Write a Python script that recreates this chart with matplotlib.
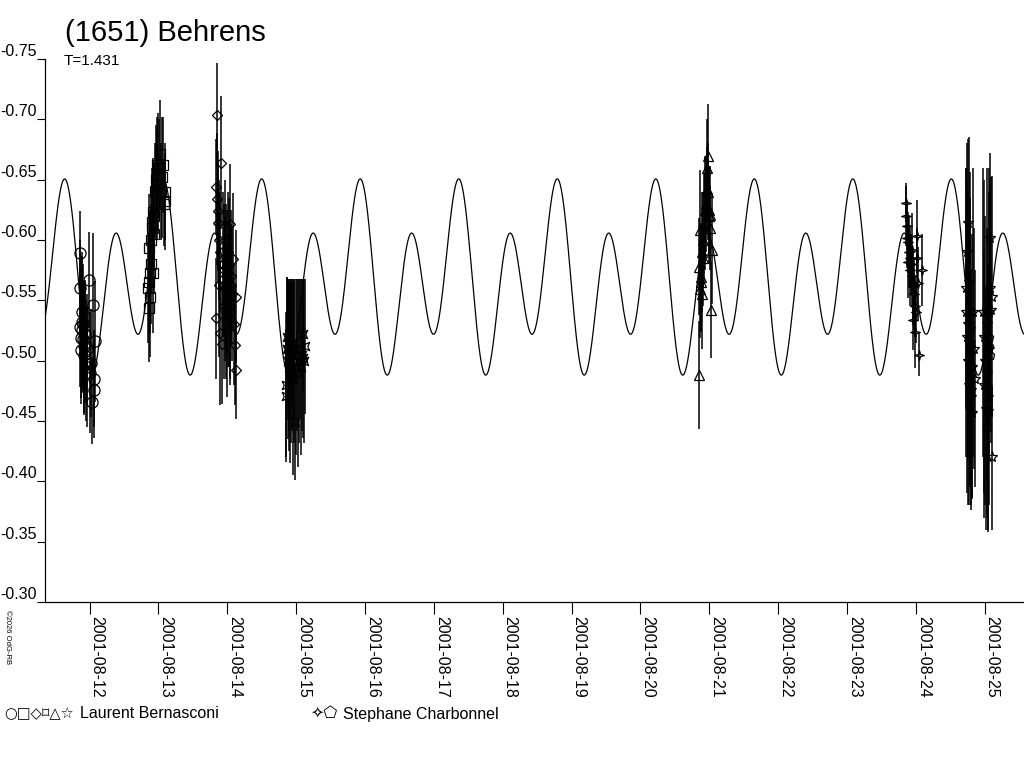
import matplotlib
matplotlib.use("Agg")
import numpy as np
import matplotlib.pyplot as plt
from matplotlib.path import Path

plt.rcParams['font.family'] = ['Liberation Sans', 'DejaVu Sans']

# ---------------- data ----------------
title = "(1651) Behrens"
period_label = "T=1.431"

# Fourier model of the light curve (days of August 2001, magnitude)
PERIOD = 1.431
EPOCH = 11.652
MODEL_MEAN = -0.5668
MODEL_COS1 = -0.0225
MODEL_SIN1 = 0.017
MODEL_COS2 = -0.0608

day_ticks = [12, 13, 14, 15, 16, 17, 18, 19, 20, 21, 22, 23, 24, 25]
day_labels = ["2001-08-%02d" % d for d in day_ticks]
mag_ticks = [-0.75, -0.70, -0.65, -0.60, -0.55, -0.50, -0.45, -0.40, -0.35, -0.30]
mag_labels = ["-0.75", "-0.70", "-0.65", "-0.60", "-0.55", "-0.50", "-0.45", "-0.40", "-0.35", "-0.30"]

# Laurent Bernasconi - Aug 12 (circles)
lb1_t = [11.855, 11.860, 11.866, 11.872, 11.878, 11.884, 11.890, 11.896, 11.902, 11.908, 11.914, 11.920,
         11.928, 11.936, 11.945, 11.955, 11.968, 11.985, 12.000, 12.014, 12.029, 12.044, 12.058, 12.066, 12.073]
lb1_m = [-0.589, -0.560, -0.528, -0.509, -0.519, -0.540, -0.532, -0.525, -0.518, -0.530, -0.512, -0.505,
         -0.522, -0.515, -0.500, -0.510, -0.495, -0.567, -0.490, -0.498, -0.466, -0.546, -0.476, -0.485, -0.516]
lb1_e = [0.035, 0.040, 0.050, 0.045, 0.050, 0.050, 0.055, 0.050, 0.045, 0.050, 0.055, 0.050,
         0.045, 0.050, 0.050, 0.045, 0.050, 0.040, 0.050, 0.045, 0.035, 0.060, 0.040, 0.040, 0.050]

# Aug 13 (squares)
lb2_t = [12.850, 12.857, 12.862, 12.868, 12.873, 12.880, 12.887, 12.895, 12.902, 12.910, 12.915, 12.922,
         12.930, 12.940, 12.950, 12.962, 12.973, 12.985, 12.998, 13.010, 13.017, 13.030, 13.045, 13.060,
         13.075, 13.089, 13.100]
lb2_m = [-0.560, -0.565, -0.544, -0.593, -0.553, -0.573, -0.580, -0.600, -0.610, -0.615, -0.623, -0.573,
         -0.605, -0.620, -0.640, -0.650, -0.662, -0.645, -0.655, -0.660, -0.671, -0.640, -0.652, -0.662,
         -0.630, -0.632, -0.640]
lb2_e = [0.045, 0.040, 0.045, 0.045, 0.050, 0.050, 0.050, 0.045, 0.050, 0.040, 0.045, 0.050,
         0.050, 0.045, 0.040, 0.045, 0.040, 0.045, 0.050, 0.040, 0.045, 0.040, 0.050, 0.040,
         0.035, 0.040, 0.040]

# Aug 14 (diamonds)
lb3_t = [13.830, 13.840, 13.848, 13.855, 13.862, 13.870, 13.878, 13.885, 13.892, 13.900, 13.910, 13.920,
         13.935, 13.946, 13.952, 13.960, 13.968, 13.975, 13.983, 13.990, 13.998, 14.005, 14.012, 14.020,
         14.027, 14.033, 14.040, 14.045, 14.052, 14.060, 14.068, 14.077, 14.090, 14.105, 14.120, 14.125]
lb3_m = [-0.644, -0.535, -0.704, -0.634, -0.624, -0.614, -0.563, -0.600, -0.523, -0.590, -0.664, -0.514,
         -0.580, -0.545, -0.575, -0.600, -0.560, -0.570, -0.540, -0.525, -0.565, -0.590, -0.550, -0.555,
         -0.580, -0.613, -0.545, -0.540, -0.570, -0.563, -0.555, -0.584, -0.530, -0.513, -0.553, -0.492]
lb3_e = [0.040, 0.050, 0.043, 0.055, 0.050, 0.050, 0.060, 0.050, 0.060, 0.050, 0.055, 0.050,
         0.060, 0.060, 0.055, 0.050, 0.060, 0.060, 0.055, 0.055, 0.060, 0.050, 0.055, 0.060,
         0.055, 0.050, 0.060, 0.060, 0.055, 0.050, 0.055, 0.055, 0.050, 0.050, 0.055, 0.040]

# Aug 15 (bow-tie squares)
lb4_t = [14.853, 14.858, 14.866, 14.872, 14.878, 14.885, 14.892, 14.900, 14.908, 14.916, 14.925, 14.935,
         14.945, 14.955, 14.965, 14.975, 14.984, 14.995, 15.008, 15.020, 15.035, 15.050, 15.065, 15.080,
         15.095, 15.100, 15.115, 15.128]
lb4_m = [-0.480, -0.471, -0.520, -0.510, -0.500, -0.515, -0.505, -0.495, -0.510, -0.490, -0.500, -0.515,
         -0.505, -0.485, -0.500, -0.510, -0.449, -0.495, -0.505, -0.490, -0.500, -0.510, -0.495, -0.505,
         -0.522, -0.502, -0.500, -0.512]
lb4_e = [0.060, 0.055, 0.049, 0.059, 0.065, 0.053, 0.063, 0.070, 0.058, 0.075, 0.068, 0.053,
         0.063, 0.080, 0.068, 0.058, 0.048, 0.073, 0.063, 0.078, 0.068, 0.058, 0.073, 0.063,
         0.046, 0.066, 0.068, 0.056]

# Aug 21 (triangles)
lb5_t = [20.845, 20.852, 20.860, 20.868, 20.875, 20.882, 20.889, 20.897, 20.905, 20.915, 20.925, 20.935,
         20.945, 20.955, 20.961, 20.968, 20.975, 20.983, 20.990, 20.998, 21.005, 21.015, 21.025, 21.034]
lb5_m = [-0.578, -0.488, -0.608, -0.559, -0.569, -0.565, -0.555, -0.590, -0.585, -0.600, -0.610, -0.615,
         -0.625, -0.630, -0.642, -0.660, -0.670, -0.640, -0.625, -0.620, -0.621, -0.610, -0.542, -0.592]
lb5_e = [0.040, 0.045, 0.050, 0.040, 0.045, 0.040, 0.045, 0.050, 0.040, 0.040, 0.045, 0.040,
         0.045, 0.040, 0.035, 0.040, 0.043, 0.040, 0.035, 0.040, 0.040, 0.035, 0.040, 0.045]

# Aug 25 (stars)
lb6_t = [24.726, 24.735, 24.742, 24.748, 24.752, 24.758, 24.763, 24.770, 24.776, 24.781, 24.787, 24.793,
         24.800, 24.806, 24.810, 24.818, 24.830, 24.845, 24.860,
         24.972, 24.985, 24.998, 25.010, 25.020, 25.030, 25.038, 25.043, 25.050, 25.058, 25.066, 25.072,
         25.080, 25.090, 25.100, 25.112]
lb6_m = [-0.560, -0.540, -0.590, -0.520, -0.614, -0.500, -0.530, -0.480, -0.565, -0.526, -0.505, -0.515,
         -0.470, -0.476, -0.457, -0.495, -0.540, -0.510, -0.485,
         -0.540, -0.520, -0.480, -0.500, -0.460, -0.530, -0.490, -0.470, -0.458, -0.510, -0.540, -0.602,
         -0.560, -0.542, -0.553, -0.420]
lb6_e = [0.100, 0.120, 0.090, 0.130, 0.070, 0.120, 0.110, 0.100, 0.120, 0.130, 0.110, 0.120,
         0.090, 0.100, 0.070, 0.110, 0.120, 0.100, 0.090,
         0.120, 0.130, 0.110, 0.120, 0.100, 0.130, 0.120, 0.110, 0.100, 0.130, 0.120, 0.070,
         0.090, 0.110, 0.100, 0.060]

# Stephane Charbonnel - Aug 24 (four-point stars)
sc1_t = [23.852, 23.858, 23.867, 23.872, 23.881, 23.890, 23.900, 23.910, 23.920, 23.930, 23.939, 23.947,
         23.954, 23.962, 23.970, 23.983, 23.995, 24.003, 24.012, 24.019, 24.026, 24.040, 24.084]
sc1_m = [-0.620, -0.631, -0.602, -0.612, -0.582, -0.598, -0.590, -0.585, -0.575, -0.580, -0.592, -0.570,
         -0.563, -0.534, -0.555, -0.545, -0.524, -0.540, -0.603, -0.585, -0.564, -0.505, -0.575]
sc1_e = [0.025, 0.016, 0.025, 0.020, 0.030, 0.025, 0.030, 0.025, 0.030, 0.025, 0.030, 0.025,
         0.030, 0.025, 0.030, 0.025, 0.030, 0.025, 0.030, 0.025, 0.030, 0.018, 0.030]

# Aug 25 (pentagons)
sc2_t = [25.040, 25.043, 25.060, 25.066, 25.072]
sc2_m = [-0.445, -0.458, -0.520, -0.512, -0.505]
sc2_e = [0.040, 0.050, 0.060, 0.050, 0.060]

# ---------------- markers ----------------
bowtie = Path([(-1, 1), (0, 0.55), (1, 1), (0.55, 0), (1, -1), (0, -0.55), (-1, -1), (-0.55, 0), (-1, 1)],
              [Path.MOVETO] + [Path.LINETO] * 7 + [Path.CLOSEPOLY])
star4 = Path([(0, 1), (0.22, 0.22), (1, 0), (0.22, -0.22), (0, -1), (-0.22, -0.22), (-1, 0), (-0.22, 0.22), (0, 1)],
             [Path.MOVETO] + [Path.LINETO] * 7 + [Path.CLOSEPOLY])

series = [
    (lb1_t, lb1_m, lb1_e, 'o', 8),
    (lb2_t, lb2_m, lb2_e, 's', 6.5),
    (lb3_t, lb3_m, lb3_e, 'D', 5.5),
    (lb4_t, lb4_m, lb4_e, bowtie, 6),
    (lb5_t, lb5_m, lb5_e, '^', 7),
    (lb6_t, lb6_m, lb6_e, '*', 8),
    (sc1_t, sc1_m, sc1_e, star4, 7),
    (sc2_t, sc2_m, sc2_e, 'p', 6.5),
]

# ---------------- figure ----------------
fig = plt.figure(figsize=(10.24, 7.68), dpi=100)
x0 = 44.8 / 1024
ax = fig.add_axes([x0, 1 - 602 / 768, 1 - x0, (602 - 59) / 768])

xmin, xmax = 11.349, 25.572
tt = np.linspace(xmin, xmax, 4000)
ph = 2 * np.pi * (tt - EPOCH) / PERIOD
model = MODEL_MEAN + MODEL_COS1 * np.cos(ph) + MODEL_SIN1 * np.sin(ph) + MODEL_COS2 * np.cos(2 * ph)
ax.plot(tt, model, color='black', lw=0.9)

for t, m, e, mk, ms in series:
    ax.errorbar(t, m, yerr=e, fmt='none', ecolor='black', elinewidth=1.1, capsize=0)
    ax.plot(t, m, ls='none', marker=mk, ms=ms, mfc='none', mec='black', mew=0.9)

ax.set_xlim(xmin, xmax)
ax.set_ylim(-0.30, -0.75)
for s in ('top', 'right'):
    ax.spines[s].set_visible(False)
ax.spines['left'].set_linewidth(0.9)
ax.spines['bottom'].set_linewidth(0.9)

ax.set_xticks(day_ticks)
ax.set_xticklabels(day_labels)
ax.set_yticks(mag_ticks)
ax.set_yticklabels(mag_labels)
ax.tick_params(axis='x', direction='out', length=8.5, width=0.8, pad=1.5, labelsize=11.5)
ax.tick_params(axis='y', direction='out', length=5.5, width=0.8, pad=0.5, labelsize=11.5)
for lab in ax.get_xticklabels():
    lab.set_rotation(-90)
    lab.set_ha('left')
    lab.set_va('top')
for lab in ax.get_yticklabels():
    lab.set_va('bottom')

fig.text(65 / 1024, 1 - 41 / 768, title, fontsize=21, va='baseline', ha='left')
fig.text(64 / 1024, 1 - 65 / 768, period_label, fontsize=11, va='baseline', ha='left')
fig.text(4 / 1024, 1 - 610 / 768, "\u00a92026 OdG-RB", fontsize=5.5, rotation=-90, ha='left', va='top')

sym_fam = ['DejaVu Sans', 'Noto Sans CJK SC']
fig.text(4 / 1024, 1 - 714 / 768, "\u25cb\u25a1\u25c7\u2311\u25b3\u2606", fontsize=10.5, va='center', ha='left', family=sym_fam)
fig.text(80 / 1024, 1 - 714 / 768, "Laurent Bernasconi", fontsize=11.5, va='center', ha='left')
fig.text(310 / 1024, 1 - 714 / 768, "\u2727\u2b20", fontsize=11.5, va='center', ha='left', family=sym_fam)
fig.text(343 / 1024, 1 - 714 / 768, "Stephane Charbonnel", fontsize=11.5, va='center', ha='left')

fig.savefig("out.png", dpi=100)
